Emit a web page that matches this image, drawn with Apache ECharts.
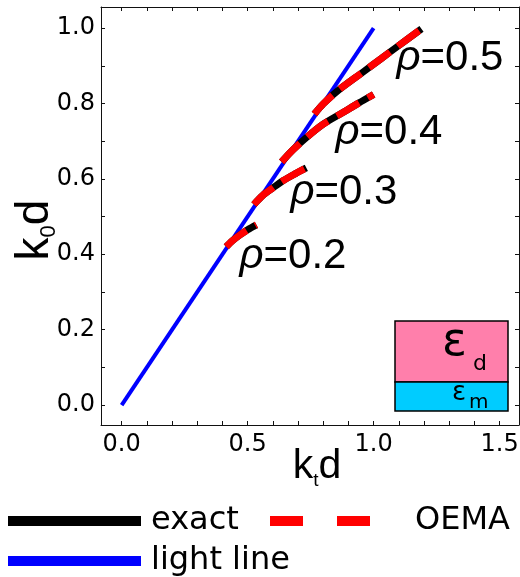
<!DOCTYPE html>
<html><head><meta charset="utf-8">
<script src="https://cdn.jsdelivr.net/npm/echarts@6/dist/echarts.min.js"></script>
<style>html,body{margin:0;padding:0;background:#fff}#c{width:520px;height:577px}</style>
</head><body><div id="c"></div>
<script>
// ---- data ----
const lightLine = [[0, 0], [1.0, 1.0]];
const exact02 = [[0.415, 0.420], [0.440, 0.436], [0.469, 0.451], [0.500, 0.465], [0.535, 0.478]];
const exact03 = [[0.525, 0.532], [0.560, 0.556], [0.600, 0.576], [0.640, 0.595], [0.690, 0.614], [0.733, 0.629]];
const exact04 = [[0.635, 0.645], [0.680, 0.677], [0.734, 0.710], [0.800, 0.745], [0.878, 0.776], [0.940, 0.801], [1.000, 0.824]];
const exact05 = [[0.765, 0.772], [0.800, 0.799], [0.860, 0.835], [0.957, 0.883], [1.030, 0.919], [1.092, 0.950], [1.190, 0.998]];
const oema02 = [[0.415, 0.420], [0.440, 0.436], [0.469, 0.451], [0.500, 0.465], [0.535, 0.478]];
const oema03 = [[0.525, 0.532], [0.560, 0.556], [0.600, 0.576], [0.640, 0.595], [0.690, 0.614], [0.733, 0.629]];
const oema04 = [[0.635, 0.645], [0.680, 0.677], [0.734, 0.710], [0.800, 0.745], [0.878, 0.776], [0.940, 0.801], [1.000, 0.824]];
const oema05 = [[0.765, 0.772], [0.800, 0.799], [0.860, 0.835], [0.957, 0.883], [1.030, 0.919], [1.092, 0.950], [1.190, 0.998]];
const rhoValues = ['0.2', '0.3', '0.4', '0.5'];
const rhoLabelPos = [[0.680, 0.395], [0.882, 0.565], [1.061, 0.724], [1.303, 0.920]];
const xTickValues = [0, 0.1, 0.2, 0.3, 0.4, 0.5, 0.6, 0.7, 0.8, 0.9, 1.0, 1.1, 1.2, 1.3, 1.4, 1.5];
const xLabelValues = [0, 0.5, 1.0, 1.5];
const yTickValues = [0, 0.1, 0.2, 0.3, 0.4, 0.5, 0.6, 0.7, 0.8, 0.9, 1.0];
const yLabelValues = [0, 0.2, 0.4, 0.6, 0.8, 1.0];

const chart = echarts.init(document.getElementById('c'), null, {renderer: 'canvas'});
const FRAME = '#111';
const tickFont = {fontFamily: 'DejaVu Sans', fontSize: 24, color: '#000'};
function axisBase(extra) {
  return Object.assign({
    type: 'value',
    axisLine: {show: true, onZero: false, lineStyle: {color: FRAME, width: 1}},
    splitLine: {show: false},
    nameMoveOverlap: false
  }, extra);
}
const X_MIN = -0.082, X_MAX = 1.577, Y_MIN = -0.053, Y_MAX = 1.056;

const exactSets = [exact02, exact03, exact04, exact05];
const oemaSets = [oema02, oema03, oema04, oema05];
const series = [{
  type: 'line', name: 'light line', data: lightLine, symbol: 'none', color: '#0000ff',
  lineStyle: {color: '#0000ff', width: 4}, z: 2, animation: false
}];
exactSets.forEach(d => series.push({
  type: 'line', name: 'exact', data: d, symbol: 'none', smooth: 0.3, color: '#000',
  lineStyle: {color: '#000', width: 7}, z: 3, animation: false
}));
oemaSets.forEach(d => series.push({
  type: 'line', name: 'OEMA', data: d, symbol: 'none', smooth: 0.3, color: '#ff0000',
  lineStyle: {color: '#ff0000', width: 7, type: [26, 10]}, z: 4, animation: false
}));
series.push({
  type: 'custom', data: rhoLabelPos, silent: true, z: 5, animation: false,
  renderItem: (params, api) => {
    const pt = api.coord([api.value(0), api.value(1)]);
    return {
      type: 'text', x: pt[0], y: pt[1],
      style: {
        text: '{r|ρ}{n|=' + rhoValues[params.dataIndex] + '}',
        align: 'center', verticalAlign: 'middle', fill: '#000',
        font: '42px "Liberation Sans"',
        rich: {
          r: {fontFamily: 'Liberation Sans', fontSize: 42, fontStyle: 'italic', fill: '#000'},
          n: {fontFamily: 'Liberation Sans', fontSize: 42, fill: '#000'}
        }
      }
    };
  }
});

const legendText = {fontFamily: 'DejaVu Sans', fontSize: 32, color: '#000'};
const xTitleRich = {
  a: {fontFamily: 'Liberation Sans', fontSize: 41, color: '#000', lineHeight: 44, padding: [0, 0, 6, 0], verticalAlign: 'top'},
  s: {fontFamily: 'Liberation Sans', fontSize: 19, color: '#000', lineHeight: 20, verticalAlign: 'bottom'}
};
const yTitleRich = {
  a: {fontFamily: 'Liberation Sans', fontSize: 46, color: '#000', lineHeight: 48, padding: [0, 0, 7, 0], verticalAlign: 'top'},
  s: {fontFamily: 'Liberation Sans', fontSize: 22, color: '#000', lineHeight: 22, verticalAlign: 'bottom'}
};
chart.setOption({
  animation: false,
  backgroundColor: '#fff',
  grid: {left: 101, top: 7, right: 1, bottom: 152, containLabel: false, outerBoundsMode: 'none'},
  xAxis: [
    axisBase({
      min: X_MIN, max: X_MAX, position: 'bottom',
      axisTick: {show: true, inside: true, length: 4, customValues: xTickValues, lineStyle: {color: FRAME}},
      axisLabel: {show: true, customValues: xLabelValues, margin: 8, formatter: v => v.toFixed(1), ...tickFont},
      name: '{a|k}{s|t}{a|d}', nameLocation: 'middle', nameGap: 21,
      nameTextStyle: {padding: [0, 0, 0, 14], rich: xTitleRich}
    }),
    axisBase({
      min: X_MIN, max: X_MAX, position: 'top',
      axisTick: {show: true, inside: true, length: 4, customValues: xTickValues, lineStyle: {color: FRAME}},
      axisLabel: {show: false}
    })
  ],
  yAxis: [
    axisBase({
      min: Y_MIN, max: Y_MAX, position: 'left',
      axisTick: {show: true, inside: true, length: 4, customValues: yTickValues, lineStyle: {color: FRAME}},
      axisLabel: {show: true, customValues: yLabelValues, margin: 6, formatter: v => v.toFixed(1), ...tickFont},
      name: '{a|k}{s|0}{a|d}', nameLocation: 'middle', nameGap: 41,
      nameTextStyle: {padding: [0, 28, 0, 0], rich: yTitleRich}
    }),
    axisBase({
      min: Y_MIN, max: Y_MAX, position: 'right',
      axisTick: {show: true, inside: true, length: 4, customValues: yTickValues, lineStyle: {color: FRAME}},
      axisLabel: {show: false}
    })
  ],
  legend: [
    {data: ['exact'], left: 3, top: 500, itemWidth: 133, itemHeight: 10, selectedMode: false,
     icon: 'path://M0,0H133V10H0Z',
     textStyle: Object.assign({padding: [0, 0, 0, 5]}, legendText)},
    {data: ['OEMA'], left: 265, top: 500, itemWidth: 100, itemHeight: 10, selectedMode: false,
     icon: 'path://M0,0H33V10H0Z M67,0H100V10H67Z',
     textStyle: Object.assign({padding: [0, 0, 0, 40]}, legendText)},
    {data: ['light line'], left: 3, top: 540, itemWidth: 133, itemHeight: 10, selectedMode: false,
     icon: 'path://M0,0H133V10H0Z',
     textStyle: Object.assign({padding: [0, 0, 0, 5]}, legendText)}
  ],
  graphic: [
    {type: 'rect', shape: {x: 395, y: 321, width: 113, height: 61}, style: {fill: '#ff7fab', stroke: '#000', lineWidth: 1.5}, z: 10},
    {type: 'rect', shape: {x: 395, y: 382, width: 113, height: 29}, style: {fill: '#00ccff', stroke: '#000', lineWidth: 1.5}, z: 10},
    {type: 'text', x: 442, y: 343, z: 11, style: {text: 'ε', font: '46px "DejaVu Sans"', fill: '#000', verticalAlign: 'middle'}},
    {type: 'text', x: 473, y: 364, z: 11, style: {text: 'd', font: '22px "DejaVu Sans"', fill: '#000', verticalAlign: 'middle'}},
    {type: 'text', x: 452, y: 393, z: 11, style: {text: 'ε', font: '26px "DejaVu Sans"', fill: '#000', verticalAlign: 'middle'}},
    {type: 'text', x: 469, y: 403, z: 11, style: {text: 'm', font: '20px "DejaVu Sans"', fill: '#000', verticalAlign: 'middle'}}
  ],
  series: series
});
</script>
</body></html>
